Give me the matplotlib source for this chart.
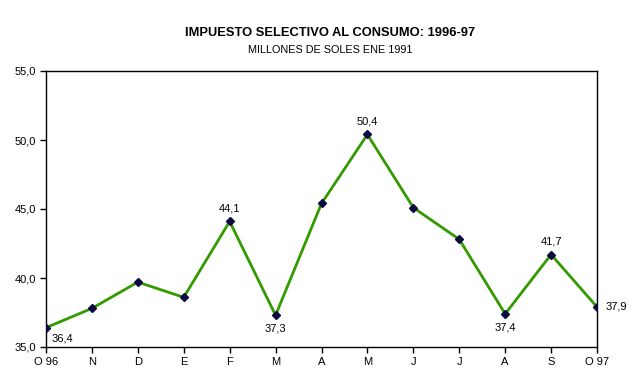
import matplotlib.pyplot as plt

months = ['O 96', 'N', 'D', 'E', 'F', 'M', 'A', 'M', 'J', 'J', 'A', 'S', 'O 97']
values = [36.4, 37.8, 39.7, 38.6, 44.1, 37.3, 45.4, 50.4, 45.1, 42.8, 37.4, 41.7, 37.9]

# which points get a value label, and where (dx, dy in points, ha, va)
labels = {
    0: (4, -4, 'left', 'top'),
    4: (0, 6, 'center', 'bottom'),
    5: (0, -6, 'center', 'top'),
    7: (0, 6, 'center', 'bottom'),
    10: (0, -6, 'center', 'top'),
    11: (0, 6, 'center', 'bottom'),
    12: (6, 0, 'left', 'center'),
}

plt.rcParams['font.family'] = ['Liberation Sans', 'DejaVu Sans']

fig = plt.figure(figsize=(6.36, 3.78), dpi=100)
ax = fig.add_axes([46/636, 31/378, 551/636, 276/378])

x = list(range(len(months)))
ax.plot(x, values, color='#339a00', linewidth=2, zorder=2)
ax.plot(x, values, linestyle='none', marker='D', markersize=4.5,
        color='#0a0a40', zorder=3)

for i, (dx, dy, ha, va) in labels.items():
    ax.annotate(f'{values[i]:.1f}'.replace('.', ','), (x[i], values[i]),
                xytext=(dx, dy), textcoords='offset points',
                ha=ha, va=va, fontsize=8)

ax.set_xlim(0, len(months) - 1)
ax.set_ylim(35, 55)
ax.set_xticks(x)
ax.set_xticklabels(months)
ax.set_yticks([35, 40, 45, 50, 55])
ax.set_yticklabels([f'{v:.1f}'.replace('.', ',') for v in [35, 40, 45, 50, 55]])
ax.tick_params(axis='both', labelsize=8, length=4, width=1, direction='out', pad=3)
for s in ax.spines.values():
    s.set_linewidth(1)
    s.set_color('black')

fig.text(0.5 + 12/636, 1 - 33/378, 'IMPUESTO SELECTIVO AL CONSUMO: 1996-97',
         ha='center', va='center', fontsize=9.3, fontweight='bold')
fig.text(0.5 + 12/636, 1 - 50/378, 'MILLONES DE SOLES ENE 1991',
         ha='center', va='center', fontsize=7.8)

plt.savefig('out.png', dpi=100)
plt.close()
